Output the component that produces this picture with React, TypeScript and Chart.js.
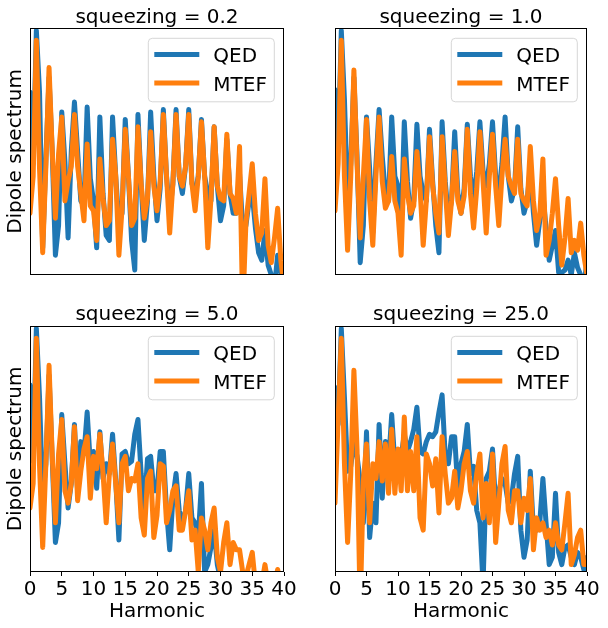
import React, { useEffect, useRef } from 'react';
import Chart from 'chart.js/auto';

// harmonic order (x), step 0.5
const harmonic = [
  0, 0.5, 1, 1.5, 2, 2.5, 3, 3.5, 4, 4.5,
  5, 5.5, 6, 6.5, 7, 7.5, 8, 8.5, 9, 9.5,
  10, 10.5, 11, 11.5, 12, 12.5, 13, 13.5, 14, 14.5,
  15, 15.5, 16, 16.5, 17, 17.5, 18, 18.5, 19, 19.5,
  20, 20.5, 21, 21.5, 22, 22.5, 23, 23.5, 24, 24.5,
  25, 25.5, 26, 26.5, 27, 27.5, 28, 28.5, 29, 29.5,
  30, 30.5, 31, 31.5, 32, 32.5, 33, 33.5, 34, 34.5,
  35, 35.5, 36, 36.5, 37, 37.5, 38, 38.5, 39, 39.5,
  40,
];

// dipole spectrum, arbitrary log units (0 = bottom of axes, 100 = top)
const qed02 = [
  74, 45, 99, 74, 11, 47, 80, 50, 8, 20,
  66, 46, 15, 50, 70, 50, 30, 28, 68, 39,
  30, 11, 64, 33, 16, 14, 64, 40, 21, 25,
  63, 40, 14, 2, 65, 37, 14, 30, 66, 40,
  22, 35, 67, 40, 25, 37, 67, 40, 33, 44,
  67, 37, 33, 40, 63, 40, 33, 30, 60, 36,
  22, 28, 55, 33, 25, 25, 41, 19, 20, 30,
  33, 19, 9, 6, 18, 4, 0, -5, 8, 1,
  3,
];
const mtef02 = [
  25, 40, 95, 43, 9, 44, 84, 50, 23, 49,
  64, 30, 38, 44, 65, 44, 33, 22, 53, 28,
  26, 14, 47, 31, 20, 22, 55, 40, 8, 27,
  59, 40, 20, 23, 60, 37, 23, 31, 58, 36,
  26, 38, 65, 40, 17, 37, 65, 40, 36, 44,
  65, 37, 26, 40, 62, 40, 11, 31, 60, 36,
  31, 30, 57, 33, 31, 25, 52, -15, 21, 33,
  45, 25, 14, 17, 39, 12, 5, 15, 27, 6,
  -5,
];
const qed10 = [
  75, 50, 99, 71, 30, 45, 80, 48, 5, 20,
  64, 43, 17, 45, 67, 48, 33, 30, 64, 40,
  36, 20, 62, 38, 23, 30, 61, 40, 33, 30,
  59, 38, 20, 9, 62, 38, 23, 30, 58, 33,
  25, 35, 61, 40, 30, 42, 62, 42, 36, 45,
  62, 40, 33, 45, 64, 40, 30, 35, 60, 35,
  25, 30, 44, 25, 12, 22, 33, 19, 6, 12,
  18, 1, 1, 2, 6, 0, 9, 3, 0, -5,
  6,
];
const mtef10 = [
  26, 45, 95, 40, 10, 40, 83, 45, 15, 40,
  63, 30, 12, 40, 64, 38, 27, 30, 48, 30,
  25, 8, 47, 33, 25, 28, 50, 35, 12, 30,
  56, 36, 25, 17, 56, 35, 16, 30, 50, 30,
  25, 32, 59, 33, 19, 35, 58, 38, 17, 40,
  57, 36, 20, 40, 55, 40, 36, 33, 55, 33,
  30, 28, 52, 30, 18, 24, 47, 8, 14, 25,
  39, 20, 4, 15, 31, 9, 14, 10, 21, 8,
  0,
];
const qed50 = [
  76, 45, 99, 71, 30, 44, 80, 46, 12, 20,
  64, 44, 26, 36, 60, 33, 53, 48, 65, 44,
  49, 34, 57, 38, 44, 40, 56, 37, 13, 48,
  49, 44, 45, 56, 62, 40, 26, 46, 47, 33,
  33, 49, 49, 25, 9, 30, 40, 25, 20, 25,
  40, 22, 20, 14, 36, 0, 3, 10, 17, 3,
  -3, -10, -5, -10, -10, -10, -10, -10, -10, -10,
  -10, -10, -10, -10, -10, -10, -10, -10, -10, -10,
  -10,
];
const mtef50 = [
  26, 36, 95, 43, 10, 44, 84, 47, 20, 48,
  62, 33, 28, 36, 59, 29, 41, 50, 55, 30,
  47, 42, 56, 40, 20, 40, 52, 36, 20, 44,
  47, 33, 38, 37, 44, 22, 15, 38, 41, 14,
  23, 44, 43, 20, 25, 33, 35, 17, 17, 25,
  33, 13, 17, 0, 22, 17, 9, 20, 26, 6,
  0, 12, 20, 3, 12, 9, 9, 0, -2, 3,
  8, -5, -5, -5, 3, -5, -5, -5, 1, -5,
  -5,
];
const qed250 = [
  75, 60, 99, 71, 41, 43, 53, 47, 37, 20,
  57, 14, 28, 20, 60, 30, 53, 44, 64, 44,
  49, 47, 56, 49, 53, 58, 67, 49, 48, 53,
  56, 55, 57, 65, 72, 47, 44, 55, 55, 33,
  44, 49, 60, 40, 43, 25, 20, -5, 38, 41,
  50, 27, 33, 38, 36, 28, 30, 40, 47, 17,
  6, 13, 41, 17, 17, 20, 38, 20, 3, 6,
  32, 8, 3, 10, 11, 6, 3, 8, 6, 1,
  6,
];
const mtef250 = [
  28, 62, 95, 44, 12, 40, 82, 50, -15, 37,
  52, 20, 44, 38, 53, 37, 52, 32, 58, 32,
  50, 33, 63, 33, 49, 33, 55, 22, 17, 48,
  44, 35, 46, 24, 55, 40, 28, 30, 41, 26,
  33, 44, 49, 33, 28, 40, 48, 22, 36, 20,
  48, 12, 28, 44, 51, 25, 20, 33, 33, 20,
  30, 25, 38, 9, 22, 17, 20, 14, 17, 11,
  20, 11, 9, 20, 32, 3, 7, 14, 17, 3,
  3,
];

const seriesLabels = ['QED', 'MTEF'];
const seriesColors = ['#1f77b4', '#ff7f0e'];

const FONT = "'DejaVu Sans', sans-serif";
Chart.defaults.font.family = FONT;
Chart.defaults.font.size = 20;
Chart.defaults.color = '#000';

// axes frame + matplotlib-like legend box in the upper right
const framePlugin = {
  id: 'frame',
  afterDraw(chart: Chart) {
    const { ctx, chartArea: a } = chart;
    ctx.save();
    ctx.strokeStyle = '#000';
    ctx.lineWidth = 1;
    const l = Math.round(a.left) + 0.5;
    const t = Math.round(a.top) + 0.5;
    const r = Math.round(a.right) - 0.5;
    const b = Math.round(a.bottom) - 0.5;
    ctx.strokeRect(l, t, r - l, b - t);

    const w = 126;
    const h = 63.5;
    const bx = a.right - 9.7 - w;
    const by = a.top + 10.3;
    ctx.beginPath();
    ctx.roundRect(bx, by, w, h, 4);
    ctx.fillStyle = 'rgba(255,255,255,0.8)';
    ctx.fill();
    ctx.strokeStyle = 'rgba(204,204,204,0.8)';
    ctx.lineWidth = 1;
    ctx.stroke();

    ctx.font = `20px ${FONT}`;
    ctx.textBaseline = 'alphabetic';
    ctx.textAlign = 'left';
    seriesLabels.forEach((label, i) => {
      const ly = by + 16.2 + i * 28.5;
      ctx.beginPath();
      ctx.moveTo(bx + 6, ly);
      ctx.lineTo(bx + 51, ly);
      ctx.strokeStyle = seriesColors[i];
      ctx.lineWidth = 5;
      ctx.lineCap = 'butt';
      ctx.stroke();
      ctx.fillStyle = '#000';
      ctx.fillText(label, bx + 65, ly + 7.5);
    });
    ctx.restore();
  },
};

interface PanelProps {
  title: string;
  qed: number[];
  mtef: number[];
  left: number;
  top: number;
  width: number;
  height: number;
  isLeft: boolean;
  isBottom: boolean;
}

const Panel: React.FC<PanelProps> = ({ title, qed, mtef, left, top, width, height, isLeft, isBottom }) => {
  const canvasRef = useRef<HTMLCanvasElement>(null);

  useEffect(() => {
    if (!canvasRef.current) return;
    const ctx = canvasRef.current.getContext('2d');
    if (!ctx) return;

    const mkData = (vals: number[]) => harmonic.map((x, i) => ({ x, y: vals[i] }));

    const chart = new Chart(ctx, {
      type: 'line',
      data: {
        datasets: [
          {
            label: seriesLabels[0],
            data: mkData(qed),
            borderColor: seriesColors[0],
            borderWidth: 5,
            pointRadius: 0,
            tension: 0,
            borderJoinStyle: 'round',
            borderCapStyle: 'round',
            order: 1,
            clip: 0,
          },
          {
            label: seriesLabels[1],
            data: mkData(mtef),
            borderColor: seriesColors[1],
            borderWidth: 5,
            pointRadius: 0,
            tension: 0,
            borderJoinStyle: 'round',
            borderCapStyle: 'round',
            order: 0,
            clip: 0,
          },
        ],
      },
      options: {
        responsive: false,
        animation: false,
        devicePixelRatio: 1,
        layout: {
          padding: {
            left: isLeft ? 0 : 35,
            right: isLeft ? 16 : 21,
            top: 0,
            bottom: isBottom ? 0 : 15,
          },
        },
        plugins: {
          legend: { display: false },
          tooltip: { enabled: false },
          title: {
            display: true,
            fullSize: false,
            text: title,
            color: '#000',
            font: { size: 20, weight: 'normal' },
            padding: isBottom ? { top: 3, bottom: -1 } : { top: 6, bottom: -2 },
          },
        },
        scales: {
          x: {
            type: 'linear',
            min: 0,
            max: 40,
            display: isBottom,
            ticks: { stepSize: 5, padding: 2, maxRotation: 0, autoSkip: false, color: '#000', font: { size: 20 } },
            grid: { drawOnChartArea: false, drawTicks: true, tickLength: 4, color: '#000' },
            border: { display: false },
            title: { display: true, text: 'Harmonic', color: '#000', font: { size: 20 }, padding: { top: 0, bottom: 4 } },
            afterFit: (s: any) => { if (isBottom) s.height = 56; },
          },
          y: {
            type: 'linear',
            min: 0,
            max: 100,
            display: isLeft,
            ticks: { display: false },
            grid: { display: false },
            border: { display: false },
            title: { display: true, text: 'Dipole spectrum', color: '#000', font: { size: 20 }, padding: { top: 3.3, bottom: 0 } },
            afterFit: (s: any) => { if (isLeft) s.width = 30; },
          },
        },
      },
      plugins: [framePlugin],
    });

    return () => {
      chart.destroy();
    };
  }, [title, qed, mtef, isLeft, isBottom]);

  return (
    <canvas
      ref={canvasRef}
      width={width}
      height={height}
      style={{ position: 'absolute', left, top, width, height }}
    />
  );
};

const App: React.FC = () => {
  return (
    <div style={{ position: 'fixed', left: 0, top: 0, width: 608, height: 628, background: '#fff' }}>
      <Panel title="squeezing = 0.2" qed={qed02} mtef={mtef02} left={0} top={0} width={300} height={290} isLeft isBottom={false} />
      <Panel title="squeezing = 1.0" qed={qed10} mtef={mtef10} left={300} top={0} width={308} height={290} isLeft={false} isBottom={false} />
      <Panel title="squeezing = 5.0" qed={qed50} mtef={mtef50} left={0} top={300} width={300} height={328} isLeft isBottom />
      <Panel title="squeezing = 25.0" qed={qed250} mtef={mtef250} left={300} top={300} width={308} height={328} isLeft={false} isBottom />
    </div>
  );
};

export default App;
